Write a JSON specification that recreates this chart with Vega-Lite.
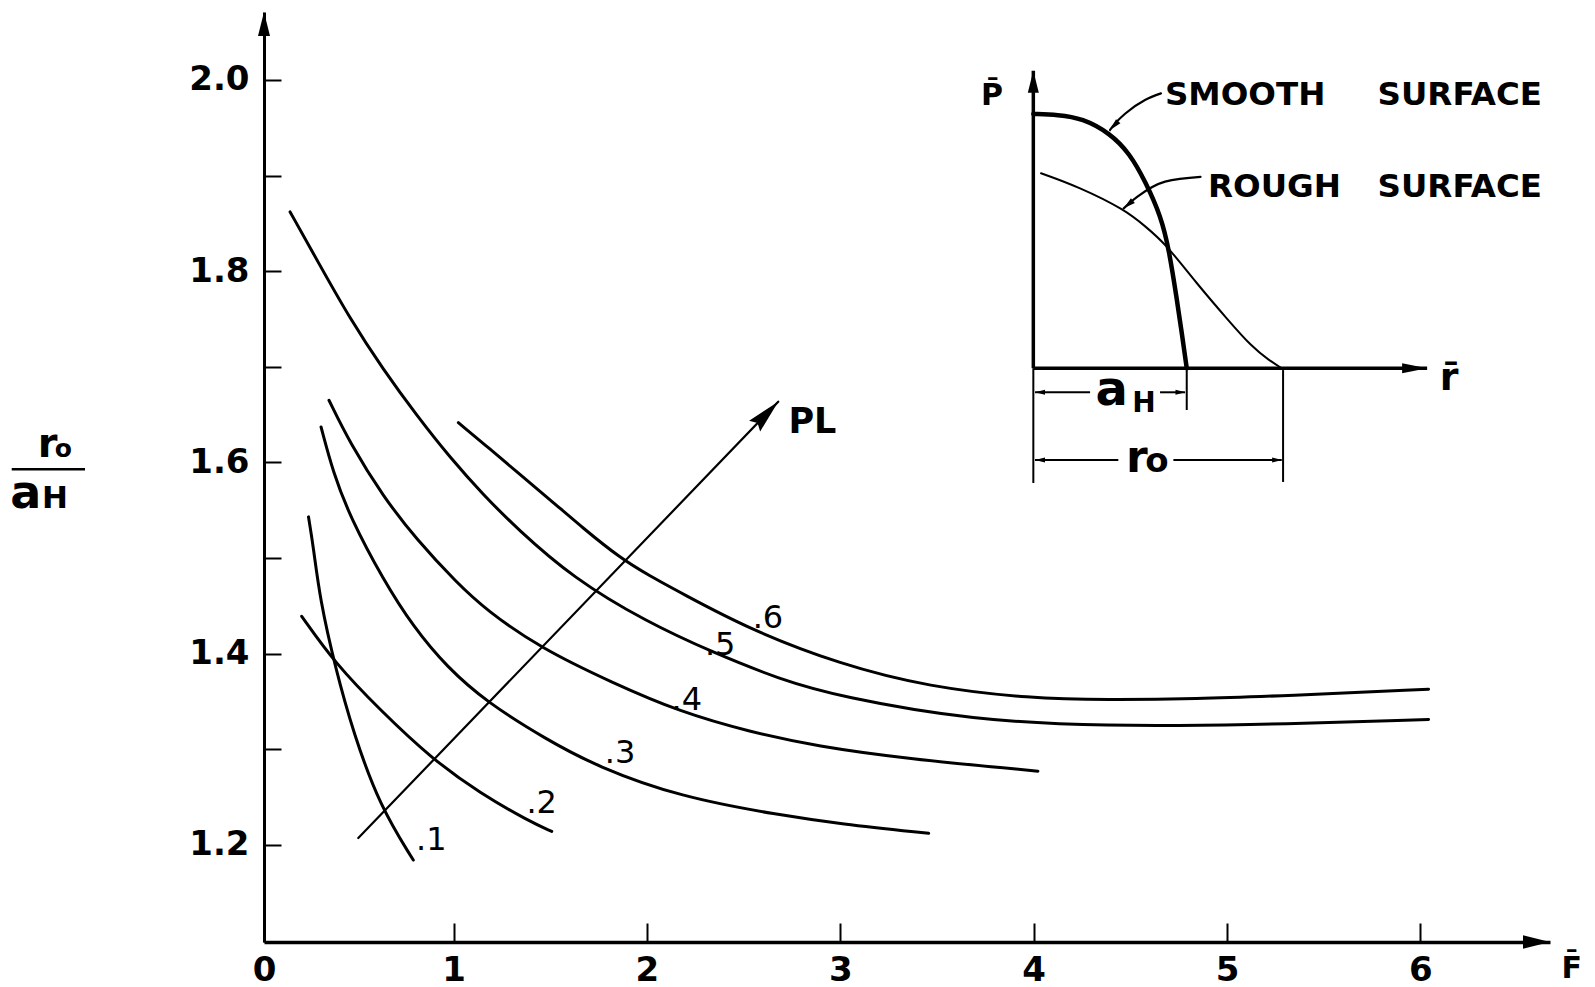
{
  "$schema": "https://vega.github.io/schema/vega-lite/v6.json",
  "width": 1286,
  "height": 930,
  "autosize": {"type": "none"},
  "padding": {"left": 264, "top": 12, "right": 45, "bottom": 45},
  "background": "white",
  "config": {
    "view": {"stroke": null},
    "axis": {
      "grid": false,
      "domainColor": "black",
      "tickColor": "black",
      "labelColor": "black",
      "labelFont": "DejaVu Sans",
      "labelFontWeight": "bold",
      "labelFontSize": 34,
      "labelFlush": false,
      "labelOverlap": false
    },
    "text": {"font": "DejaVu Sans", "color": "black"},
    "line": {"color": "black", "strokeCap": "round", "strokeJoin": "round"},
    "rule": {"color": "black"},
    "point": {"color": "black", "filled": true, "opacity": 1, "strokeWidth": 0}
  },
  "layer": [
    {
      "encoding": {
        "x": {
          "field": "F",
          "type": "quantitative",
          "scale": {"domain": [0.02, 6.67], "nice": false, "zero": false},
          "axis": {
            "title": null,
            "values": [0.02, 1, 2, 3, 4, 5, 6],
            "labelExpr": "datum.value < 0.5 ? '0' : format(datum.value, 'd')",
            "tickSize": -19,
            "tickWidth": 2,
            "domainWidth": 3.5,
            "labelPadding": 30
          }
        },
        "y": {
          "field": "R",
          "type": "quantitative",
          "scale": {"domain": [1.0983, 2.0711], "nice": false, "zero": false},
          "axis": {
            "title": null,
            "values": [1.2, 1.3, 1.4, 1.5, 1.6, 1.7, 1.8, 1.9, 2.0],
            "labelExpr": "round(datum.value * 10) % 2 == 0 ? format(datum.value, '.1f') : ''",
            "tickSize": -17,
            "tickWidth": 2,
            "domainWidth": 3,
            "labelPadding": 32
          }
        }
      },
      "layer": [
        {
          "data": {"values": [
            {"curve": ".1", "F": 0.250, "R": 1.543},
            {"curve": ".1", "F": 0.275, "R": 1.512},
            {"curve": ".1", "F": 0.310, "R": 1.456},
            {"curve": ".1", "F": 0.388, "R": 1.386},
            {"curve": ".1", "F": 0.482, "R": 1.317},
            {"curve": ".1", "F": 0.620, "R": 1.240},
            {"curve": ".1", "F": 0.792, "R": 1.184},
            {"curve": ".2", "F": 0.215, "R": 1.439},
            {"curve": ".2", "F": 0.387, "R": 1.390},
            {"curve": ".2", "F": 0.620, "R": 1.341},
            {"curve": ".2", "F": 0.887, "R": 1.290},
            {"curve": ".2", "F": 1.137, "R": 1.254},
            {"curve": ".2", "F": 1.396, "R": 1.224},
            {"curve": ".2", "F": 1.508, "R": 1.214},
            {"curve": ".3", "F": 0.315, "R": 1.637},
            {"curve": ".3", "F": 0.378, "R": 1.589},
            {"curve": ".3", "F": 0.465, "R": 1.543},
            {"curve": ".3", "F": 0.637, "R": 1.477},
            {"curve": ".3", "F": 0.792, "R": 1.428},
            {"curve": ".3", "F": 0.965, "R": 1.386},
            {"curve": ".3", "F": 1.172, "R": 1.349},
            {"curve": ".3", "F": 1.482, "R": 1.310},
            {"curve": ".3", "F": 1.740, "R": 1.282},
            {"curve": ".3", "F": 2.171, "R": 1.250},
            {"curve": ".3", "F": 2.688, "R": 1.231},
            {"curve": ".3", "F": 2.995, "R": 1.222},
            {"curve": ".3", "F": 3.457, "R": 1.212},
            {"curve": ".4", "F": 0.356, "R": 1.665},
            {"curve": ".4", "F": 0.465, "R": 1.620},
            {"curve": ".4", "F": 0.637, "R": 1.564},
            {"curve": ".4", "F": 0.810, "R": 1.519},
            {"curve": ".4", "F": 1.017, "R": 1.474},
            {"curve": ".4", "F": 1.172, "R": 1.445},
            {"curve": ".4", "F": 1.447, "R": 1.406},
            {"curve": ".4", "F": 1.826, "R": 1.369},
            {"curve": ".4", "F": 2.171, "R": 1.339},
            {"curve": ".4", "F": 2.533, "R": 1.318},
            {"curve": ".4", "F": 2.880, "R": 1.303},
            {"curve": ".4", "F": 3.340, "R": 1.290},
            {"curve": ".4", "F": 4.022, "R": 1.277},
            {"curve": ".5", "F": 0.155, "R": 1.862},
            {"curve": ".5", "F": 0.293, "R": 1.812},
            {"curve": ".5", "F": 0.465, "R": 1.750},
            {"curve": ".5", "F": 0.637, "R": 1.697},
            {"curve": ".5", "F": 0.810, "R": 1.649},
            {"curve": ".5", "F": 0.982, "R": 1.605},
            {"curve": ".5", "F": 1.154, "R": 1.566},
            {"curve": ".5", "F": 1.327, "R": 1.531},
            {"curve": ".5", "F": 1.618, "R": 1.479},
            {"curve": ".5", "F": 1.999, "R": 1.433},
            {"curve": ".5", "F": 2.343, "R": 1.401},
            {"curve": ".5", "F": 2.688, "R": 1.373},
            {"curve": ".5", "F": 2.995, "R": 1.355},
            {"curve": ".5", "F": 3.687, "R": 1.330},
            {"curve": ".5", "F": 4.379, "R": 1.324},
            {"curve": ".5", "F": 5.072, "R": 1.325},
            {"curve": ".5", "F": 6.042, "R": 1.331},
            {"curve": ".6", "F": 1.025, "R": 1.6415},
            {"curve": ".6", "F": 1.189, "R": 1.614},
            {"curve": ".6", "F": 1.327, "R": 1.590},
            {"curve": ".6", "F": 1.499, "R": 1.561},
            {"curve": ".6", "F": 1.671, "R": 1.531},
            {"curve": ".6", "F": 1.861, "R": 1.500},
            {"curve": ".6", "F": 2.016, "R": 1.481},
            {"curve": ".6", "F": 2.171, "R": 1.464},
            {"curve": ".6", "F": 2.533, "R": 1.425},
            {"curve": ".6", "F": 2.995, "R": 1.389},
            {"curve": ".6", "F": 3.457, "R": 1.365},
            {"curve": ".6", "F": 3.986, "R": 1.353},
            {"curve": ".6", "F": 4.379, "R": 1.3515},
            {"curve": ".6", "F": 4.839, "R": 1.3525},
            {"curve": ".6", "F": 5.303, "R": 1.356},
            {"curve": ".6", "F": 6.042, "R": 1.3627}
          ]},
          "mark": {"type": "line", "strokeWidth": 3, "interpolate": "basis"},
          "encoding": {"detail": {"field": "curve"}}
        },
        {
          "data": {"values": [
            {"F": 0.5076, "R": 1.207},
            {"F": 2.679, "R": 1.6635}
          ]},
          "mark": {"type": "line", "strokeWidth": 2.2},
          "encoding": {}
        },
        {
          "data": {"values": [{"F": 2.679, "R": 1.6635}]},
          "mark": {"type": "point", "shape": "M0,0L0.45,2L0,1.75L-0.45,2Z", "size": 1156, "angle": 43.9}
        },
        {
          "data": {"values": [{"F": 6.67, "R": 1.0983}]},
          "mark": {"type": "point", "shape": "M0,0L0.5,2L-0.5,2Z", "size": 729, "angle": 90}
        },
        {
          "data": {"values": [{"F": 0.02, "R": 2.0711}]},
          "mark": {"type": "point", "shape": "M0,0L0.5,2L-0.5,2Z", "size": 576, "angle": 0}
        },
        {
          "data": {"values": [
            {"t": ".1", "F": 0.885, "R": 1.1946},
            {"t": ".2", "F": 1.456, "R": 1.2329},
            {"t": ".3", "F": 1.861, "R": 1.2852},
            {"t": ".4", "F": 2.206, "R": 1.3410},
            {"t": ".5", "F": 2.379, "R": 1.3985},
            {"t": ".6", "F": 2.626, "R": 1.4265}
          ]},
          "mark": {"type": "text", "fontSize": 32, "align": "center", "baseline": "alphabetic"},
          "encoding": {"text": {"field": "t"}}
        },
        {
          "data": {"values": [{"t": "PL", "F": 2.856, "R": 1.6304}]},
          "mark": {"type": "text", "fontSize": 35, "fontWeight": "bold", "align": "center", "baseline": "alphabetic"},
          "encoding": {"text": {"field": "t"}}
        },
        {
          "data": {"values": [{"t": "F\u0304", "F": 6.783, "R": 1.0607}]},
          "mark": {"type": "text", "fontSize": 30, "fontWeight": "bold", "align": "center", "baseline": "alphabetic"},
          "encoding": {"text": {"field": "t"}}
        },
        {
          "data": {"values": [{"t": "r", "F": -1.0995, "R": 1.606}]},
          "mark": {"type": "text", "fontSize": 40, "fontWeight": "bold", "align": "center", "baseline": "alphabetic"},
          "encoding": {"text": {"field": "t"}}
        },
        {
          "data": {"values": [{"t": "o", "F": -1.0177, "R": 1.606}]},
          "mark": {"type": "text", "fontSize": 25, "fontWeight": "bold", "align": "center", "baseline": "alphabetic"},
          "encoding": {"text": {"field": "t"}}
        },
        {
          "data": {"values": [{"t": "a", "F": -1.2116, "R": 1.552}]},
          "mark": {"type": "text", "fontSize": 46, "fontWeight": "bold", "align": "center", "baseline": "alphabetic"},
          "encoding": {"text": {"field": "t"}}
        },
        {
          "data": {"values": [{"t": "H", "F": -1.0607, "R": 1.5523}]},
          "mark": {"type": "text", "fontSize": 31, "fontWeight": "bold", "align": "center", "baseline": "alphabetic"},
          "encoding": {"text": {"field": "t"}}
        },
        {
          "data": {"values": [{"F": -1.2845, "F2": -0.9055, "R": 1.5928}]},
          "mark": {"type": "rule", "strokeWidth": 2.5},
          "encoding": {"x2": {"field": "F2"}}
        }
      ]
    },
    {
      "encoding": {
        "x": {
          "field": "r",
          "type": "quantitative",
          "scale": {"domain": [-5.015, 3.368], "nice": false, "zero": false},
          "axis": null
        },
        "y": {
          "field": "P",
          "type": "quantitative",
          "scale": {"domain": [-2.256, 1.401], "nice": false, "zero": false},
          "axis": null
        }
      },
      "layer": [
        {
          "data": {"values": [
            {"r": 0, "r2": 0, "P": 0, "P2": 1.17},
            {"r": 0, "r2": 2.567, "P": 0, "P2": 0}
          ]},
          "mark": {"type": "rule", "strokeWidth": 3.5},
          "encoding": {"x2": {"field": "r2"}, "y2": {"field": "P2"}}
        },
        {
          "data": {"values": [
            {"r": 0, "r2": 0, "P": 0, "P2": -0.451},
            {"r": 1.0, "r2": 1.0, "P": -0.007, "P2": -0.164},
            {"r": 1.628, "r2": 1.628, "P": -0.007, "P2": -0.447},
            {"r": 0.011, "r2": 0.370, "P": -0.0944, "P2": -0.0944},
            {"r": 0.826, "r2": 0.989, "P": -0.0944, "P2": -0.0944},
            {"r": 0.011, "r2": 0.554, "P": -0.3606, "P2": -0.3606},
            {"r": 0.913, "r2": 1.619, "P": -0.3606, "P2": -0.3606}
          ]},
          "mark": {"type": "rule", "strokeWidth": 2},
          "encoding": {"x2": {"field": "r2"}, "y2": {"field": "P2"}}
        },
        {
          "data": {"values": [
            {"r": 0.0, "P": 1.0},
            {"r": 0.16, "P": 0.997},
            {"r": 0.32, "P": 0.983},
            {"r": 0.5, "P": 0.924},
            {"r": 0.628, "P": 0.845},
            {"r": 0.731, "P": 0.734},
            {"r": 0.833, "P": 0.596},
            {"r": 0.885, "P": 0.465},
            {"r": 0.936, "P": 0.269},
            {"r": 0.97, "P": 0.13},
            {"r": 1.0, "P": 0.0}
          ]},
          "mark": {"type": "line", "strokeWidth": 4.5, "interpolate": "basis"},
          "encoding": {}
        },
        {
          "data": {"values": [
            {"r": 0.05, "P": 0.767},
            {"r": 0.294, "P": 0.714},
            {"r": 0.602, "P": 0.622},
            {"r": 0.731, "P": 0.557},
            {"r": 0.859, "P": 0.492},
            {"r": 1.064, "P": 0.334},
            {"r": 1.269, "P": 0.19},
            {"r": 1.423, "P": 0.085},
            {"r": 1.54, "P": 0.03},
            {"r": 1.62, "P": 0.0}
          ]},
          "mark": {"type": "line", "strokeWidth": 2, "interpolate": "basis"},
          "encoding": {}
        },
        {
          "data": {"values": [
            {"leader": "smooth", "r": 0.5, "P": 0.937},
            {"leader": "smooth", "r": 0.525, "P": 0.957},
            {"leader": "smooth", "r": 0.602, "P": 1.003},
            {"leader": "smooth", "r": 0.728, "P": 1.055},
            {"leader": "smooth", "r": 0.832, "P": 1.081},
            {"leader": "rough", "r": 0.589, "P": 0.629},
            {"leader": "rough", "r": 0.679, "P": 0.675},
            {"leader": "rough", "r": 0.859, "P": 0.734},
            {"leader": "rough", "r": 1.09, "P": 0.753}
          ]},
          "mark": {"type": "line", "strokeWidth": 2.2, "interpolate": "monotone"},
          "encoding": {"detail": {"field": "leader"}}
        },
        {
          "data": {"values": [{"r": 0, "P": 1.17}]},
          "mark": {"type": "point", "shape": "M0,0L0.5,2L-0.5,2Z", "size": 484, "angle": 0}
        },
        {
          "data": {"values": [{"r": 2.567, "P": 0}]},
          "mark": {"type": "point", "shape": "M0,0L0.4,2L-0.4,2Z", "size": 625, "angle": 90}
        },
        {
          "data": {"values": [{"r": 0.5, "P": 0.937}]},
          "mark": {"type": "point", "shape": "M0,0L0.5,2L-0.5,2Z", "size": 144, "angle": 223}
        },
        {
          "data": {"values": [{"r": 0.589, "P": 0.629}]},
          "mark": {"type": "point", "shape": "M0,0L0.5,2L-0.5,2Z", "size": 144, "angle": 230}
        },
        {
          "data": {"values": [
            {"r": 0.011, "P": -0.0944},
            {"r": 0.011, "P": -0.3606}
          ]},
          "mark": {"type": "point", "shape": "M0,0L0.5,2L-0.5,2Z", "size": 100, "angle": 270}
        },
        {
          "data": {"values": [
            {"r": 0.992, "P": -0.0944},
            {"r": 1.622, "P": -0.3606}
          ]},
          "mark": {"type": "point", "shape": "M0,0L0.5,2L-0.5,2Z", "size": 100, "angle": 90}
        },
        {
          "data": {"values": [
            {"t": "SMOOTH", "r": 0.858, "P": 1.035},
            {"t": "SURFACE", "r": 2.244, "P": 1.035},
            {"t": "ROUGH", "r": 1.139, "P": 0.6736},
            {"t": "SURFACE", "r": 2.244, "P": 0.6736}
          ]},
          "mark": {"type": "text", "fontSize": 32.5, "fontWeight": "bold", "align": "left", "baseline": "alphabetic"},
          "encoding": {"text": {"field": "t"}}
        },
        {
          "data": {"values": [{"t": "P\u0304", "r": -0.269, "P": 1.035}]},
          "mark": {"type": "text", "fontSize": 30, "fontWeight": "bold", "align": "center", "baseline": "alphabetic"},
          "encoding": {"text": {"field": "t"}}
        },
        {
          "data": {"values": [{"t": "r\u0304", "r": 2.711, "P": -0.0853}]},
          "mark": {"type": "text", "fontSize": 38, "fontWeight": "bold", "align": "center", "baseline": "alphabetic"},
          "encoding": {"text": {"field": "t"}}
        },
        {
          "data": {"values": [{"t": "a", "r": 0.511, "P": -0.1443}]},
          "mark": {"type": "text", "fontSize": 48, "fontWeight": "bold", "align": "center", "baseline": "alphabetic"},
          "encoding": {"text": {"field": "t"}}
        },
        {
          "data": {"values": [{"t": "H", "r": 0.722, "P": -0.1707}]},
          "mark": {"type": "text", "fontSize": 28, "fontWeight": "bold", "align": "center", "baseline": "alphabetic"},
          "encoding": {"text": {"field": "t"}}
        },
        {
          "data": {"values": [{"t": "r", "r": 0.675, "P": -0.4096}]},
          "mark": {"type": "text", "fontSize": 44, "fontWeight": "bold", "align": "center", "baseline": "alphabetic"},
          "encoding": {"text": {"field": "t"}}
        },
        {
          "data": {"values": [{"t": "o", "r": 0.806, "P": -0.4096}]},
          "mark": {"type": "text", "fontSize": 34, "fontWeight": "bold", "align": "center", "baseline": "alphabetic"},
          "encoding": {"text": {"field": "t"}}
        }
      ]
    }
  ],
  "resolve": {"scale": {"x": "independent", "y": "independent"}}
}
